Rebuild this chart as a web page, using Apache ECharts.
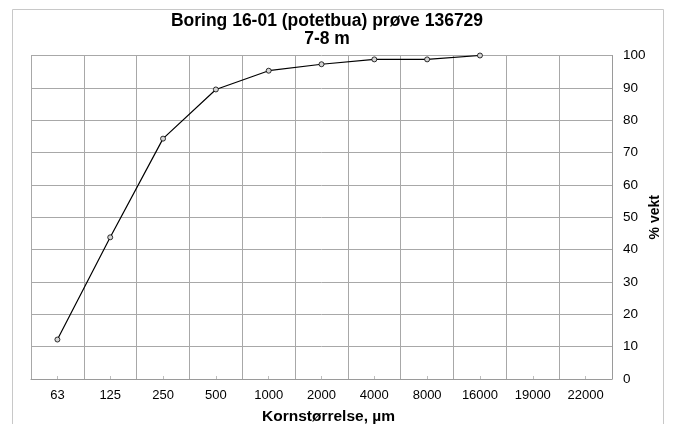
<!DOCTYPE html>
<html>
<head>
<meta charset="utf-8">
<script src="https://cdn.jsdelivr.net/npm/echarts@6/dist/echarts.min.js"></script>
<style>
    html, body { margin: 0; padding: 0; background: #fff; }
    #chart { width: 676px; height: 424px; }
</style>
</head>
<body>
<div id="chart"></div>
<script>
    // kornfordeling, boring 16-01
    var sizes = ['63', '125', '250', '500', '1000', '2000', '4000', '8000', '16000', '19000', '22000'];
    var passing = [12.2, 43.8, 74.3, 89.5, 95.3, 97.3, 98.8, 98.8, 100, null, null];
    var yTicks = [0, 100, 10];

    var chart = echarts.init(document.getElementById('chart'));
    var font = 'Liberation Sans, Arial, sans-serif';

    var option = {
        animation: false,
        backgroundColor: '#fff',
        title: {
            text: 'Boring 16-01 (potetbua) prøve 136729\n7-8 m',
            left: 322,
            textAlign: 'center',
            top: 7,
            textStyle: {
                fontFamily: font,
                fontSize: 17.5,
                fontWeight: 'bold',
                color: '#000',
                lineHeight: 18
            }
        },
        graphic: [{
            type: 'rect',
            shape: { x: 12.5, y: 9.5, width: 651, height: 430 },
            style: { fill: null, stroke: '#c8c8c8', lineWidth: 1 },
            silent: true
        }],
        grid: { left: 31, right: 64, top: 55.5, bottom: 45, outerBoundsMode: 'none' },
        xAxis: {
            type: 'category',
            data: sizes,
            boundaryGap: true,
            name: 'Kornstørrelse, µm',
            nameLocation: 'middle',
            nameGap: 30,
            nameMoveOverlap: false,
            nameTextStyle: { fontFamily: font, fontSize: 15.5, fontWeight: 'bold', color: '#000', padding: [0, 0, 0, 14] },
            axisLine: { lineStyle: { color: '#9a9a9a', width: 1 } },
            axisTick: { show: true, alignWithLabel: true, inside: true, length: 3, lineStyle: { color: '#bdbdbd' } },
            axisLabel: { fontFamily: font, fontSize: 13, color: '#000', margin: 10, interval: 0 },
            splitLine: { show: true, lineStyle: { color: '#a8a8a8', width: 1 } }
        },
        yAxis: {
            type: 'value',
            position: 'right',
            min: yTicks[0],
            max: yTicks[1],
            interval: yTicks[2],
            name: '% vekt',
            nameLocation: 'middle',
            nameRotate: 90,
            nameGap: 36,
            nameMoveOverlap: false,
            nameTextStyle: { fontFamily: font, fontSize: 14, fontWeight: 'bold', color: '#000' },
            axisLine: { show: true, lineStyle: { color: '#9a9a9a', width: 1 } },
            axisTick: { show: false },
            axisLabel: { fontFamily: font, fontSize: 13.5, color: '#000', margin: 11 },
            splitLine: { show: true, lineStyle: { color: '#a8a8a8', width: 1 } }
        },
        series: [{
            type: 'line',
            data: passing,
            symbol: 'circle',
            symbolSize: 5,
            showAllSymbol: true,
            lineStyle: { color: '#000', width: 1.2 },
            itemStyle: { color: '#d4d4d4', borderColor: '#000', borderWidth: 0.8 }
        }]
    };

    chart.setOption(option);
</script>
</body>
</html>
